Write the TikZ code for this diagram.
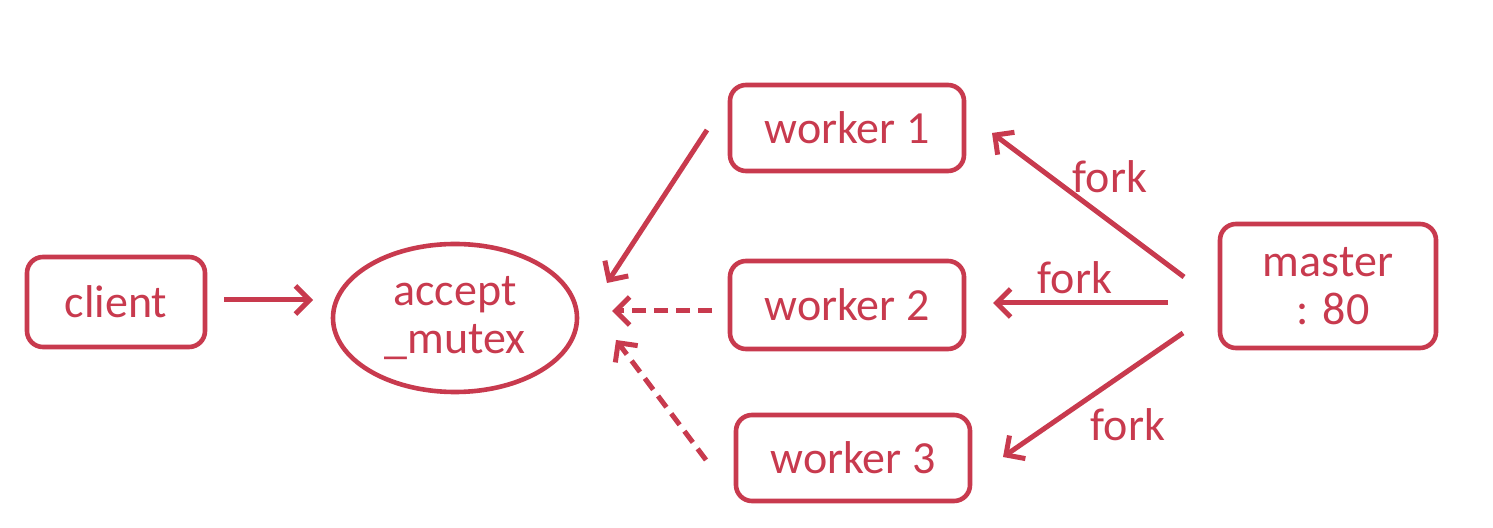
\documentclass[tikz,border=0pt]{standalone}
\usepackage{fontspec}
\setmainfont{Carlito}
\usetikzlibrary{shapes.geometric,arrows.meta}
\definecolor{rd}{HTML}{C83A4E}
\tikzset{
  box/.style={draw=rd, line width=2.3pt, rounded corners=8pt, text=rd, font=\fontsize{23}{24}\selectfont, align=center, inner sep=0pt},
  arr/.style={draw=rd, line width=2.5pt, -{Straight Barb[length=7pt,width=14pt,line width=2.5pt]}},
  lbl/.style={text=rd, font=\fontsize{23}{24}\selectfont, inner sep=0pt}
}
\begin{document}
\begin{tikzpicture}[x=0.5pt,y=-0.5pt]
\useasboundingbox (0,0) rectangle (1493,528);
\node[box, minimum width=89pt, minimum height=45pt] (client) at (116,302) {client};
\node[box, ellipse, minimum width=122pt, minimum height=74pt] (mutex) at (455,318) {accept\\\_mutex};
\node[box, minimum width=117pt, minimum height=43pt] (w1) at (847,128) {worker 1};
\node[box, minimum width=117pt, minimum height=44pt] (w2) at (847,305) {worker 2};
\node[box, minimum width=117pt, minimum height=43pt] (w3) at (853,458) {worker 3};
\node[box, minimum width=108pt, minimum height=62pt] (master) at (1328,286) {master\\\ : 80};
% connector end points
\coordinate (c1) at (224,300); \coordinate (c2) at (313,300);
\coordinate (a1) at (707,130); \coordinate (a2) at (607,283);
\coordinate (b1) at (712,311); \coordinate (b2) at (612,311);
\coordinate (d1) at (706,460); \coordinate (d2) at (616,340);
\coordinate (m1) at (1184,277); \coordinate (e1) at (992,133);
\coordinate (m2) at (1168,303); \coordinate (e2) at (993,303);
\coordinate (m3) at (1183,333); \coordinate (e3) at (1003,457);
\draw[arr] (c1) -- (c2);
\draw[arr] (a1) -- (a2);
\draw[arr, dash pattern=on 7pt off 4pt] (b1) -- (b2);
\draw[arr, dash pattern=on 7pt off 4pt] (d1) -- (d2);
\draw[arr] (m1) -- (e1);
\draw[arr] (m2) -- (e2);
\draw[arr] (m3) -- (e3);
\node[lbl] (f1) at (1110,177) {fork};
\node[lbl] (f2) at (1075,278) {fork};
\node[lbl] (f3) at (1128,425) {fork};
\end{tikzpicture}
\end{document}
